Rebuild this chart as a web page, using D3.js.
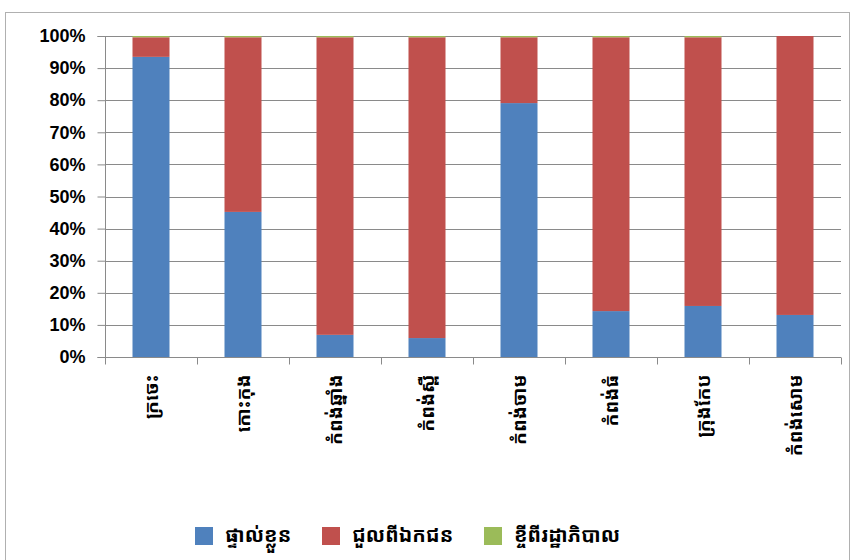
<!DOCTYPE html>
<html>
<head>
<meta charset="utf-8">
<script src="https://cdn.jsdelivr.net/npm/d3@7"></script>
<style>
  html, body { margin: 0; padding: 0; background: #fff; }
  svg { display: block; }
  .khmer { font-family: "Khmer OS", "Noto Sans Khmer", "Noto Sans", "DejaVu Sans", sans-serif; }
</style>
</head>
<body>
<svg id="chart" width="854" height="560"></svg>
<script>
// ---- data ----
const categories = ["ក្រចេះ", "កោះកុង", "កំពង់ឆ្នាំង", "កំពង់ស្ពឺ", "កំពង់ចាម", "កំពង់ធំ", "ក្រុងកែប", "កំពង់សោម"];
const seriesNames = ["ផ្ទាល់ខ្លួន", "ជួលពីឯកជន", "ខ្ចីពីរដ្ឋាភិបាល"];
const ownValues = [93.5, 45.2, 6.9, 5.9, 79.1, 14.3, 15.9, 13.1];
const govValues = [0.4, 0.4, 0.4, 0.4, 0.4, 0.4, 0.4, 0.0];
const rentValues = ownValues.map((v, i) => 100 - v - govValues[i]);
const yTicks = [0, 10, 20, 30, 40, 50, 60, 70, 80, 90, 100];
const colors = ["#4F81BD", "#C0504D", "#9BBB59"];

// ---- layout ----
const svg = d3.select("#chart");
const plot = { left: 105, right: 841, top: 36, bottom: 357 };

// outer border
svg.append("rect")
  .attr("x", 5.5).attr("y", 12.5)
  .attr("width", 844).attr("height", 560)
  .attr("fill", "none").attr("stroke", "#b0b0b0").attr("stroke-width", 1);

const xb = d3.scaleBand().domain(categories).range([plot.left, plot.right]);
const y = d3.scaleLinear().domain([0, 100]).range([plot.bottom, plot.top]);

// gridlines
svg.append("g")
  .selectAll("line").data(yTicks.filter(d => d > 0)).join("line")
  .attr("x1", plot.left).attr("x2", plot.right)
  .attr("y1", d => Math.round(y(d)) + 0.5).attr("y2", d => Math.round(y(d)) + 0.5)
  .attr("stroke", "#8a8a8a").attr("stroke-width", 1);

// stacked bars
const table = categories.map((c, i) => ({ cat: c, own: ownValues[i], rent: rentValues[i], gov: govValues[i] }));
const stack = d3.stack().keys(["own", "rent", "gov"])(table);
const bw = 37;
svg.append("g").selectAll("g").data(stack).join("g")
  .attr("fill", (d, i) => colors[i])
  .selectAll("rect").data(d => d).join("rect")
  .attr("x", d => xb(d.data.cat) + xb.bandwidth() / 2 - bw / 2)
  .attr("width", bw)
  .attr("y", d => y(d[1]))
  .attr("height", d => Math.max(0, y(d[0]) - y(d[1])));

// y axis
const yAxis = d3.axisLeft(y).tickValues(yTicks).tickSize(8).tickPadding(12).tickFormat(d => d + "%");
const gy = svg.append("g").attr("transform", `translate(${plot.left + 0.5},0)`).call(yAxis);
gy.select(".domain").attr("stroke", "#8a8a8a").attr("d", `M-8,${plot.top + 0.5}H0V${plot.bottom + 0.5}H-8`);
gy.selectAll(".tick line").attr("stroke", "#8a8a8a");
gy.selectAll(".tick text")
  .attr("fill", "#000").style("font-family", "'Liberation Sans', Arial, sans-serif")
  .style("font-size", "18px").style("font-weight", "bold");

// x axis
const gx = svg.append("g").attr("transform", `translate(0,${plot.bottom + 0.5})`);
gx.append("line").attr("x1", plot.left).attr("x2", plot.right).attr("stroke", "#8a8a8a");
const bounds = categories.map(c => xb(c)).concat([plot.right]);
gx.selectAll("line.tk").data(bounds).join("line").attr("class", "tk")
  .attr("x1", d => Math.round(d) + 0.5).attr("x2", d => Math.round(d) + 0.5)
  .attr("y1", 0).attr("y2", 7).attr("stroke", "#8a8a8a");

gx.selectAll("text.lbl").data(categories).join("text").attr("class", "lbl khmer")
  .attr("transform", d => `translate(${xb(d) + xb.bandwidth() / 2 + 7},${17}) rotate(-90)`)
  .attr("text-anchor", "end")
  .style("font-size", "19px").style("font-weight", "bold")
  .attr("fill", "#000")
  .text(d => d);

// legend
const legendX = [195, 322, 484];
const lg = svg.append("g").selectAll("g").data(seriesNames).join("g")
  .attr("transform", (d, i) => `translate(${legendX[i]},527)`);
lg.append("rect").attr("width", 18).attr("height", 18).attr("fill", (d, i) => colors[i]);
lg.append("text").attr("class", "khmer").attr("x", 30).attr("y", 15)
  .style("font-size", "20px").style("font-weight", "bold").attr("fill", "#000")
  .text(d => d);
</script>
</body>
</html>
